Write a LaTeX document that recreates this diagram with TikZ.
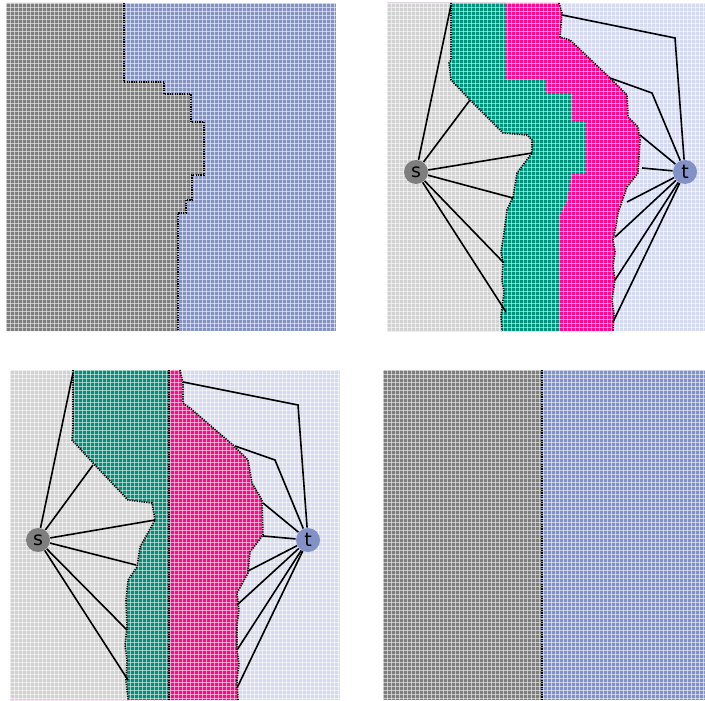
\documentclass[tikz,border=0pt]{standalone}
\usepackage{fontspec}
\setsansfont{DejaVu Sans}
\definecolor{cellg}{HTML}{7E7E7E}
\definecolor{cellb}{HTML}{8392C6}
\definecolor{paleg}{HTML}{D2D2D2}
\definecolor{paleb}{HTML}{D6DAEF}
\definecolor{cellteal}{HTML}{00917B}
\definecolor{cellpink}{HTML}{FF0A8C}

% white pixel raster over a panel: x0 y0 x1 y1
\newcommand{\pixgrid}[4]{%
  \begin{scope}
    \clip (#1,#2) rectangle (#3,#4);
    \foreach \k in {0,...,84} {
      \draw[cellline] ({#1+4*\k},#2) -- ({#1+4*\k},#4);
      \draw[cellline] (#1,{#2+4*\k}) -- (#3,{#2+4*\k});
    }
  \end{scope}}

% region borders
\def\cutone{(124,3) -- (124,82) -- (164,82) -- (164,94) -- (191,94) -- (191,122) -- (204,122) -- (204,175) -- (192,175) -- (192,200) -- (186,200) -- (186,213) -- (178,213) -- (178,331)}
\def\pinktwo{(559,3) -- (562,13) -- (560,37) -- (570,40) -- (590,59) -- (610,78) -- (627,95) -- (628,117) -- (638,127) -- (640,140) -- (638,173) -- (627,187) -- (618,213) -- (616,226) -- (613,240) -- (615,252) -- (613,266) -- (615,280) -- (612,300) -- (614,314) -- (613,331)}
\def\midtwo{(506,3) -- (506,80) -- (546,80) -- (546,93) -- (572,93) -- (572,122) -- (585,122) -- (585,173) -- (572,173) -- (567,200) -- (559,217) -- (559,331)}
\def\tealtwo{(451,3) -- (451,60) -- (449,63) -- (451,80) -- (470,100) -- (503,133) -- (527,135) -- (532,140) -- (532,153) -- (517,173) -- (513,197) -- (507,210) -- (505,225) -- (503,240) -- (501,252) -- (503,262) -- (502,280) -- (504,292) -- (503,300) -- (501,316) -- (502,331)}
\def\pinkthree{(180,370) -- (183,383) -- (183,403) -- (190,408) -- (233,445) -- (248,460) -- (252,483) -- (262,500) -- (263,535) -- (250,552) -- (248,573) -- (237,593) -- (239,610) -- (237,625) -- (237,650) -- (239,664) -- (237,680) -- (238,700)}
\def\tealthree{(73,370) -- (73,427) -- (72,440) -- (93,463) -- (128,500) -- (152,503) -- (155,520) -- (140,547) -- (137,567) -- (128,580) -- (126,600) -- (127,627) -- (125,645) -- (127,660) -- (126,680) -- (128,700)}

\begin{document}
\begin{tikzpicture}[x=0.5pt,y=-0.5pt,
  cellline/.style={draw=white,line width=0.45pt,opacity=0.55},
  border/.style={draw=black,line width=0.8pt,dash pattern=on 0.6pt off 0.6pt},
  link/.style={draw=black,line width=0.8pt},
  vert/.style={circle,inner sep=0pt,minimum size=12pt,font=\sffamily\fontsize{9.5}{9.5}\selectfont}]
\useasboundingbox (0,0) rectangle (705,700);

% panel 1
\fill[cellb] (6,3) rectangle (336,331);
\fill[cellg] (6,3) -- \cutone -- (6,331) -- cycle;
\pixgrid{6}{3}{336}{331}
\draw[border] \cutone;

% panel 2
\fill[paleb] (387,3) rectangle (705,331);
\fill[cellpink] (387,3) -- \pinktwo -- (387,331) -- cycle;
\fill[cellteal] (387,3) -- \midtwo -- (387,331) -- cycle;
\fill[paleg] (387,3) -- \tealtwo -- (387,331) -- cycle;
\pixgrid{387}{3}{705}{331}
\draw[border] \pinktwo;
\draw[border] \tealtwo;
\node[vert,fill=cellg] (s2) at (416,172) {s};
\node[vert,fill=cellb] (t2) at (685,172) {t};
\foreach \ex/\ey in {451/5,470/100,532/153,513/198,503/262,506/312}
  {\coordinate (e) at (\ex,\ey); \draw[link] (s2) -- (e);}
\foreach \kx/\ky/\ex/\ey in {675/38/562/15,652/93/610/78}
  {\coordinate (k) at (\kx,\ky); \coordinate (e) at (\ex,\ey); \draw[link] (t2) -- (k) -- (e);}
\foreach \ex/\ey in {640/135,642/168,627/202,615/237,615/280,613/322}
  {\coordinate (e) at (\ex,\ey); \draw[link] (t2) -- (e);}

% panel 3
\fill[paleb] (10,370) rectangle (340,700);
\fill[cellpink] (10,370) -- \pinkthree -- (10,700) -- cycle;
\fill[cellteal] (10,370) -- (169,370) -- (169,700) -- (10,700) -- cycle;
\fill[paleg] (10,370) -- \tealthree -- (10,700) -- cycle;
\pixgrid{10}{370}{340}{700}
\draw[border] \pinkthree;
\draw[border] \tealthree;
\draw[border] (169,370) -- (169,700);
\node[vert,fill=cellg] (s3) at (38,540) {s};
\node[vert,fill=cellb] (t3) at (308,540) {t};
\foreach \ex/\ey in {73/373,93/465,155/520,136/565,127/630,128/680}
  {\coordinate (e) at (\ex,\ey); \draw[link] (s3) -- (e);}
\foreach \kx/\ky/\ex/\ey in {298/405/183/382,275/460/235/446}
  {\coordinate (k) at (\kx,\ky); \coordinate (e) at (\ex,\ey); \draw[link] (t3) -- (k) -- (e);}
\foreach \ex/\ey in {263/503,263/536,248/571,237/605,237/650,237/688}
  {\coordinate (e) at (\ex,\ey); \draw[link] (t3) -- (e);}

% panel 4
\fill[cellg] (383,370) rectangle (542,700);
\fill[cellb] (542,370) rectangle (705,700);
\pixgrid{383}{370}{705}{700}
\draw[border] (542,370) -- (542,700);
\end{tikzpicture}
\end{document}
